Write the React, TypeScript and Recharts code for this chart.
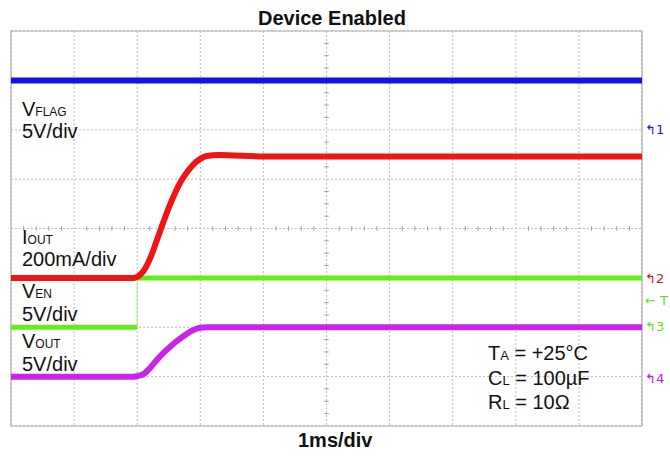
import { CartesianGrid, Line, LineChart, ReferenceArea, ReferenceLine, XAxis, YAxis } from "recharts";

// time in ms (1 ms/div), level in screen divisions counted from the bottom edge
const flagTime = [0, 10];
const flagDiv = [7, 7];

const ioutTime = [0, 1.95, 2.0, 2.1, 2.2, 2.3, 2.4, 2.5, 2.6, 2.7, 2.8, 2.9, 3.0, 3.1, 3.3, 4.0, 10];
const ioutDiv = [3.0, 3.0, 3.02, 3.14, 3.38, 3.72, 4.08, 4.42, 4.72, 4.97, 5.16, 5.31, 5.41, 5.47, 5.49, 5.46, 5.46];

const enLowTime = [0, 2.0];
const enLowDiv = [2, 2];
const enHighTime = [2.0, 10];
const enHighDiv = [3, 3];

const voutTime = [0, 1.95, 2.0, 2.1, 2.2, 2.3, 2.4, 2.5, 2.6, 2.7, 2.8, 2.9, 3.0, 3.1, 10];
const voutDiv = [1.0, 1.0, 1.01, 1.05, 1.17, 1.32, 1.46, 1.58, 1.69, 1.79, 1.88, 1.95, 1.99, 2.0, 2.0];

const xTicks = [0, 1, 2, 3, 4, 5, 6, 7, 8, 9, 10];
const yTicks = [0, 1, 2, 3, 4, 5, 6, 7, 8];

const W = 670;
const H = 456;
const FONT = "'Liberation Sans', Arial, sans-serif";

const toRows = (t: number[], v: number[]) => t.map((x, i) => ({ t: x, v: v[i] }));

// minor graticule ticks on the centre lines
const minorX = Array.from({ length: 49 }, (_, i) => (i + 1) * 0.2).filter((x) => Math.abs(x - Math.round(x)) > 0.01);
const minorY = Array.from({ length: 31 }, (_, i) => (i + 1) * 0.25).filter((y) => Math.abs(y - Math.round(y)) > 0.01);

const markers = [
  { y: 134, label: "1", color: "#1c1cb0" },
  { y: 283, label: "2", color: "#d01818" },
  { y: 305, label: "T", color: "#66dd22", plain: true },
  { y: 331, label: "3", color: "#66dd22" },
  { y: 383, label: "4", color: "#b020d0" },
];

function Sub({ x, y, main, sub }: { x: number; y: number; main: string; sub: string }) {
  return (
    <text x={x} y={y} fontSize={20} fill="#111" fontFamily={FONT}>
      {main}
      <tspan fontSize={12}>{sub}</tspan>
    </text>
  );
}

export default function App() {
  return (
    <div style={{ position: "absolute", left: 0, top: 0, width: W, height: H, background: "#fff" }}>
      <LineChart width={W} height={H} margin={{ top: 31, left: 11, right: 28, bottom: 30 }}>
        <XAxis type="number" dataKey="t" domain={[0, 10]} ticks={xTicks} hide allowDataOverflow />
        <YAxis type="number" dataKey="v" domain={[0, 8]} ticks={yTicks} hide allowDataOverflow />
        <CartesianGrid stroke="#bdbdbd" strokeDasharray="2 2" />
        <ReferenceArea x1={0} x2={10} y1={0} y2={8} fill="none" stroke="#b0b0b0" strokeWidth={1.2} />
        {minorX.map((x) => (
          <ReferenceLine key={"mx" + x} segment={[{ x, y: 3.955 }, { x, y: 4.045 }]} stroke="#999" />
        ))}
        {minorY.map((y) => (
          <ReferenceLine key={"my" + y} segment={[{ x: 4.965, y }, { x: 5.035, y }]} stroke="#999" />
        ))}
        <Line data={toRows(flagTime, flagDiv)} dataKey="v" stroke="#1212e6" strokeWidth={6} dot={false} isAnimationActive={false} />
        <Line data={toRows(enLowTime, enLowDiv)} dataKey="v" stroke="#62ee16" strokeWidth={5} dot={false} isAnimationActive={false} />
        <Line data={toRows([2.0, 2.0], [2, 3])} dataKey="v" stroke="#a8f080" strokeWidth={1} dot={false} isAnimationActive={false} />
        <Line data={toRows(enHighTime, enHighDiv)} dataKey="v" stroke="#62ee16" strokeWidth={5} dot={false} isAnimationActive={false} />
        <Line data={toRows(ioutTime, ioutDiv)} type="monotone" dataKey="v" stroke="#f01414" strokeWidth={6} dot={false} isAnimationActive={false} />
        <Line data={toRows(voutTime, voutDiv)} type="monotone" dataKey="v" stroke="#cc22ee" strokeWidth={6} dot={false} isAnimationActive={false} />
      </LineChart>
      <svg width={W} height={H} style={{ position: "absolute", left: 0, top: 0, pointerEvents: "none" }}>
        <text x={258} y={25} fontSize={20} fontWeight="bold" fill="#111" fontFamily={FONT}>
          Device Enabled
        </text>
        <text x={298} y={447} fontSize={20} fontWeight="bold" fill="#111" fontFamily={FONT}>
          1ms/div
        </text>

        <Sub x={22} y={116} main="V" sub="FLAG" />
        <text x={22} y={138} fontSize={20} fill="#111" fontFamily={FONT}>5V/div</text>
        <Sub x={22} y={244} main="I" sub="OUT" />
        <text x={22} y={266} fontSize={20} fill="#111" fontFamily={FONT}>200mA/div</text>
        <Sub x={22} y={298} main="V" sub="EN" />
        <text x={22} y={321} fontSize={20} fill="#111" fontFamily={FONT}>5V/div</text>
        <Sub x={22} y={348} main="V" sub="OUT" />
        <text x={22} y={371} fontSize={20} fill="#111" fontFamily={FONT}>5V/div</text>

        <text x={488} y={360} fontSize={20} fill="#111" fontFamily={FONT}>
          T<tspan fontSize={13}>A</tspan> = +25°C
        </text>
        <text x={488} y={385} fontSize={20} fill="#111" fontFamily={FONT}>
          C<tspan fontSize={13}>L</tspan> = 100µF
        </text>
        <text x={488} y={409} fontSize={20} fill="#111" fontFamily={FONT}>
          R<tspan fontSize={13}>L</tspan> = 10Ω
        </text>

        {markers.map((m) => (
          <text key={m.label} x={645} y={m.y} fontSize={13} fill={m.color} fontFamily="'DejaVu Sans', sans-serif">
            {m.plain ? "← " : "↰"}
            {m.label}
          </text>
        ))}
      </svg>
    </div>
  );
}
